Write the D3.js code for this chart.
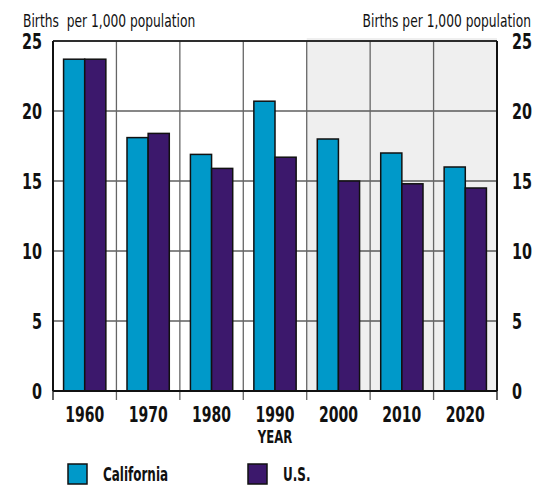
<!DOCTYPE html>
<html>
<head>
<meta charset="utf-8">
<script src="https://cdn.jsdelivr.net/npm/d3@7"></script>
<style>
  body { margin: 0; background: #fff; }
  svg text { font-family: "DejaVu Sans Condensed", "DejaVu Sans", sans-serif; fill: #111; }
  .tick-lbl { font-weight: bold; font-size: 20.5px; }
  .unit { font-size: 17.5px; }
</style>
</head>
<body>
<div id="chart"></div>
<script>
// Births per 1,000 population, California vs U.S.
var years = ["1960", "1970", "1980", "1990", "2000", "2010", "2020"];
var seriesNames = ["California", "U.S."];
var california = [23.7, 18.1, 16.9, 20.7, 18.0, 17.0, 16.0];
var us = [23.7, 18.4, 15.9, 16.7, 15.0, 14.8, 14.5];
var yTicks = [0, 5, 10, 15, 20, 25];
var shadedYears = ["2000", "2010", "2020"];
var colors = ["#0099c9", "#3c186c"];

var svgWidth = 548, svgHeight = 485;
var margin = { top: 41, right: 51, bottom: 94, left: 53 };
var width = svgWidth - margin.left - margin.right;
var height = svgHeight - margin.top - margin.bottom;

// the reference uses a tall condensed face; squeeze glyphs horizontally
function squeeze(sel, k) {
  sel.each(function() {
    var w = this.getComputedTextLength();
    d3.select(this).attr("textLength", w * k).attr("lengthAdjust", "spacingAndGlyphs");
  });
}

var svg = d3.select("#chart")
  .append("svg")
  .attr("width", svgWidth)
  .attr("height", svgHeight);

var g = svg.append("g")
  .attr("transform", "translate(" + margin.left + "," + margin.top + ")");

var x = d3.scaleBand().domain(years).range([0, width]).paddingInner(0);
var xs = d3.scaleBand().domain(seriesNames).range([0, x.bandwidth()]).paddingInner(0).paddingOuter(0.5);
var y = d3.scaleLinear().domain([0, 25]).range([height, 0]);

// shaded projection area
g.append("rect")
  .attr("x", x(shadedYears[0]))
  .attr("y", -3)
  .attr("width", x(shadedYears[shadedYears.length - 1]) + x.bandwidth() - x(shadedYears[0]))
  .attr("height", height + 3)
  .attr("fill", "#efefef");

// horizontal grid
g.selectAll(".hgrid")
  .data(yTicks.filter(function(d) { return d > 0; }))
  .enter().append("line")
  .attr("x1", 0).attr("x2", width)
  .attr("y1", function(d) { return y(d); })
  .attr("y2", function(d) { return y(d); })
  .attr("stroke", "#111")
  .attr("stroke-width", 1.2);

// vertical grid (band boundaries), extending below as ticks
var bounds = years.map(function(d) { return x(d); }).concat([width]);
g.selectAll(".vgrid")
  .data(bounds)
  .enter().append("line")
  .attr("x1", function(d) { return d; })
  .attr("x2", function(d) { return d; })
  .attr("y1", 0).attr("y2", height + 9)
  .attr("stroke", function(d, i) { return (i === 0 || i === bounds.length - 1) ? "#111" : "#666"; })
  .attr("stroke-width", 1.3);

// bars
var rows = years.map(function(yr, i) {
  return { year: yr, values: [california[i], us[i]] };
});

var groups = g.selectAll(".grp")
  .data(rows)
  .enter().append("g")
  .attr("transform", function(d) { return "translate(" + x(d.year) + ",0)"; });

groups.selectAll("rect")
  .data(function(d) { return d.values.map(function(v, i) { return { name: seriesNames[i], value: v, i: i }; }); })
  .enter().append("rect")
  .attr("x", function(d) { return xs(d.name); })
  .attr("width", xs.bandwidth())
  .attr("y", function(d) { return y(d.value); })
  .attr("height", function(d) { return height - y(d.value); })
  .attr("fill", function(d) { return colors[d.i]; })
  .attr("stroke", "#111")
  .attr("stroke-width", 1.5);

// axis lines
g.append("line").attr("x1", 0).attr("x2", width).attr("y1", 0).attr("y2", 0)
  .attr("stroke", "#111").attr("stroke-width", 1.5);
g.append("line").attr("x1", 0).attr("x2", width).attr("y1", height).attr("y2", height)
  .attr("stroke", "#111").attr("stroke-width", 2);
g.append("line").attr("x1", 0).attr("x2", 0).attr("y1", 0).attr("y2", height)
  .attr("stroke", "#111").attr("stroke-width", 2);
g.append("line").attr("x1", width).attr("x2", width).attr("y1", 0).attr("y2", height)
  .attr("stroke", "#111").attr("stroke-width", 2);

// y axes
var leftAxis = d3.axisLeft(y).tickValues(yTicks).tickSize(0).tickPadding(11);
var rightAxis = d3.axisRight(y).tickValues(yTicks).tickSize(0).tickPadding(15);

var la = g.append("g").call(leftAxis);
la.select(".domain").remove();
la.selectAll("text").attr("class", "tick-lbl").attr("dy", "0.36em").call(squeeze, 0.78);

var ra = g.append("g").attr("transform", "translate(" + width + ",0)").call(rightAxis);
ra.select(".domain").remove();
ra.selectAll("text").attr("class", "tick-lbl").attr("dy", "0.36em").call(squeeze, 0.78);

// x axis labels
var xa = g.append("g").attr("transform", "translate(0," + height + ")")
  .call(d3.axisBottom(x).tickSize(0).tickPadding(16));
xa.select(".domain").remove();
xa.selectAll("text").attr("class", "tick-lbl").attr("dy", "0.71em").call(squeeze, 0.76);

g.append("text")
  .attr("class", "tick-lbl")
  .attr("x", x("1990") + x.bandwidth() / 2)
  .attr("y", height + 52)
  .attr("text-anchor", "middle")
  .style("font-size", "18px")
  .text("YEAR")
  .call(squeeze, 0.72);

// unit labels (squeezed with a transform so their boxes stay true)
svg.append("text").attr("class", "unit")
  .attr("transform", "translate(23,27) scale(0.78,1)")
  .attr("xml:space", "preserve")
  .text("Births  per 1,000 population");

svg.append("text").attr("class", "unit")
  .attr("transform", "translate(531,27) scale(0.78,1)")
  .attr("text-anchor", "end")
  .text("Births per 1,000 population");

// legend
var legendX = [68, 248];
var legend = svg.selectAll(".legend")
  .data(seriesNames)
  .enter().append("g")
  .attr("transform", function(d, i) { return "translate(" + legendX[i] + ",464)"; });

legend.append("rect")
  .attr("width", 19).attr("height", 20)
  .attr("fill", function(d, i) { return colors[i]; })
  .attr("stroke", "#111").attr("stroke-width", 1.5);

legend.append("text")
  .attr("class", "tick-lbl")
  .style("font-size", "19px")
  .attr("x", 35).attr("y", 17)
  .text(function(d) { return d; })
  .call(squeeze, 0.7);
</script>
</body>
</html>
